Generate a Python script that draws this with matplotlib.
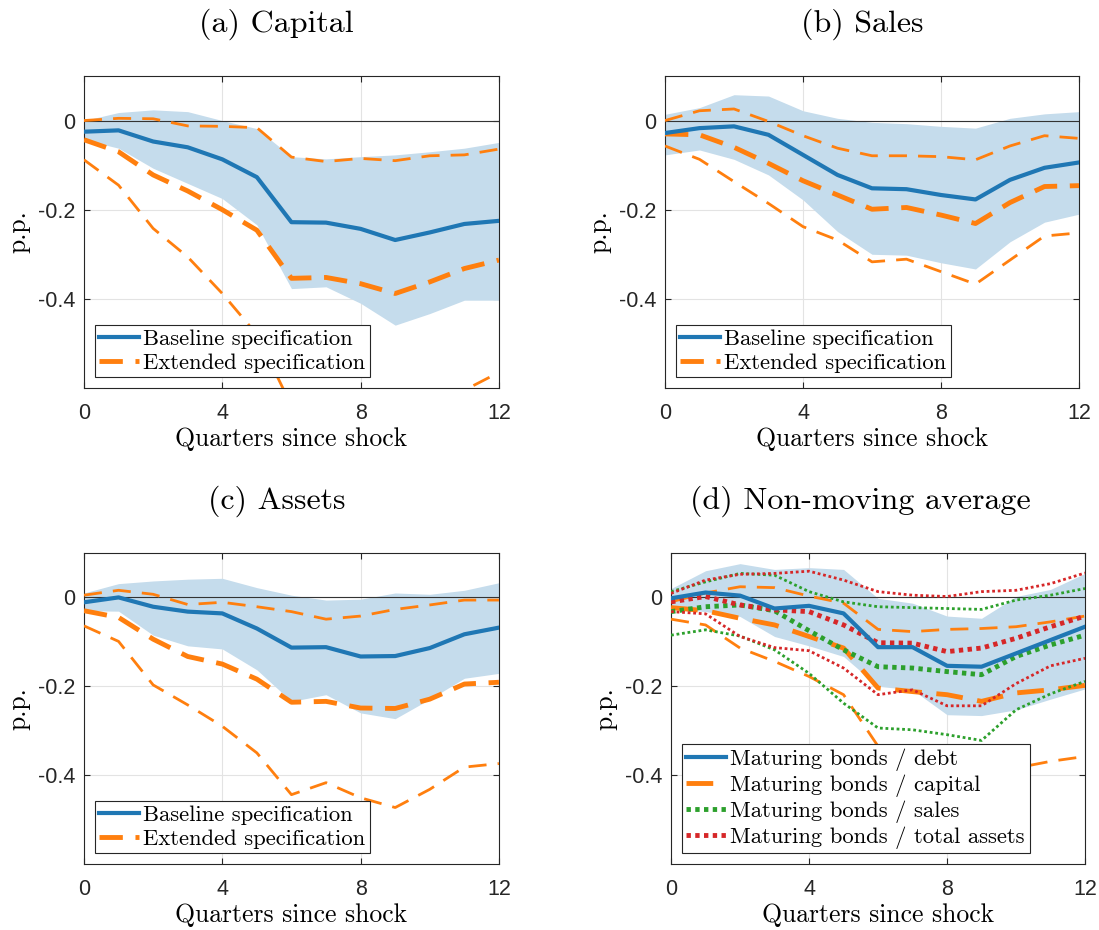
import numpy as np
import matplotlib.pyplot as plt
from matplotlib.lines import Line2D

quarters = np.arange(13)

# (a) Capital
cap_base = [-0.025, -0.022, -0.047, -0.060, -0.087, -0.127, -0.228, -0.229, -0.243, -0.268, -0.251, -0.232, -0.225]
cap_band_hi = [0.0, 0.018, 0.024, 0.020, 0.0, -0.018, -0.081, -0.086, -0.081, -0.077, -0.070, -0.062, -0.049]
cap_band_lo = [-0.043, -0.062, -0.107, -0.141, -0.175, -0.234, -0.377, -0.373, -0.410, -0.459, -0.433, -0.403, -0.403]
cap_ext = [-0.043, -0.070, -0.122, -0.158, -0.200, -0.246, -0.354, -0.352, -0.366, -0.388, -0.362, -0.332, -0.313]
cap_ext_hi = [0.0, 0.005, 0.004, -0.012, -0.013, -0.016, -0.082, -0.092, -0.085, -0.090, -0.079, -0.077, -0.064]
cap_ext_lo = [-0.088, -0.145, -0.242, -0.306, -0.388, -0.48, -0.64, -0.66, -0.68, -0.70, -0.66, -0.605, -0.565]

# (b) Sales
sal_base = [-0.028, -0.017, -0.013, -0.032, -0.077, -0.122, -0.152, -0.154, -0.167, -0.177, -0.133, -0.106, -0.094]
sal_band_hi = [0.014, 0.029, 0.058, 0.055, 0.022, 0.005, -0.004, -0.007, -0.013, -0.017, 0.005, 0.015, 0.020]
sal_band_lo = [-0.077, -0.066, -0.087, -0.122, -0.178, -0.249, -0.300, -0.302, -0.319, -0.333, -0.272, -0.228, -0.210]
sal_ext = [-0.030, -0.032, -0.060, -0.096, -0.135, -0.167, -0.199, -0.195, -0.212, -0.231, -0.184, -0.148, -0.146]
sal_ext_hi = [0.0, 0.022, 0.026, -0.002, -0.034, -0.062, -0.079, -0.079, -0.081, -0.088, -0.057, -0.034, -0.040]
sal_ext_lo = [-0.057, -0.087, -0.137, -0.186, -0.238, -0.268, -0.317, -0.311, -0.339, -0.367, -0.313, -0.259, -0.252]

# (c) Assets
ast_base = [-0.011, 0.0, -0.021, -0.032, -0.036, -0.070, -0.113, -0.112, -0.133, -0.132, -0.114, -0.083, -0.068]
ast_band_hi = [0.010, 0.031, 0.037, 0.041, 0.043, 0.022, 0.005, -0.006, -0.004, 0.010, 0.007, 0.016, 0.033]
ast_band_lo = [-0.030, -0.031, -0.085, -0.109, -0.116, -0.163, -0.234, -0.219, -0.260, -0.273, -0.229, -0.182, -0.171]
ast_ext = [-0.030, -0.045, -0.094, -0.133, -0.150, -0.184, -0.236, -0.234, -0.249, -0.250, -0.229, -0.195, -0.191]
ast_ext_hi = [0.005, 0.016, 0.007, -0.016, -0.011, -0.021, -0.032, -0.049, -0.042, -0.027, -0.017, -0.006, -0.006]
ast_ext_lo = [-0.064, -0.099, -0.197, -0.242, -0.290, -0.350, -0.444, -0.417, -0.451, -0.473, -0.432, -0.382, -0.374]

# (d) Non-moving average
nm_debt = [-0.002, 0.011, 0.004, -0.025, -0.019, -0.036, -0.112, -0.112, -0.154, -0.156, -0.126, -0.096, -0.066]
nm_debt_hi = [0.020, 0.060, 0.076, 0.063, 0.067, 0.063, -0.002, -0.013, -0.042, -0.047, 0.002, 0.018, 0.054]
nm_debt_lo = [-0.025, -0.032, -0.043, -0.088, -0.109, -0.133, -0.200, -0.208, -0.264, -0.266, -0.253, -0.229, -0.206]
nm_cap = [-0.023, -0.030, -0.047, -0.062, -0.088, -0.114, -0.204, -0.212, -0.219, -0.234, -0.215, -0.208, -0.198]
nm_cap_hi = [-0.010, 0.010, 0.024, 0.022, 0.003, -0.013, -0.072, -0.077, -0.072, -0.070, -0.066, -0.055, -0.042]
nm_cap_lo = [-0.049, -0.062, -0.114, -0.144, -0.178, -0.219, -0.335, -0.365, -0.385, -0.395, -0.384, -0.369, -0.358]
nm_sal = [-0.032, -0.021, -0.017, -0.030, -0.075, -0.118, -0.156, -0.159, -0.167, -0.174, -0.133, -0.107, -0.085]
nm_sal_hi = [0.013, 0.035, 0.054, 0.050, 0.013, -0.010, -0.021, -0.023, -0.025, -0.027, -0.006, 0.005, 0.020]
nm_sal_lo = [-0.085, -0.073, -0.087, -0.118, -0.171, -0.238, -0.294, -0.298, -0.309, -0.322, -0.253, -0.217, -0.189]
nm_ta = [-0.010, 0.002, -0.017, -0.028, -0.032, -0.062, -0.102, -0.103, -0.122, -0.114, -0.092, -0.066, -0.042]
nm_ta_hi = [0.009, 0.039, 0.052, 0.054, 0.059, 0.039, 0.013, 0.005, 0.002, 0.013, 0.016, 0.031, 0.055]
nm_ta_lo = [-0.032, -0.037, -0.088, -0.113, -0.120, -0.159, -0.219, -0.208, -0.244, -0.244, -0.194, -0.154, -0.137]

titles = ['(a) Capital', '(b) Sales', '(c) Assets', '(d) Non-moving average']
ext_labels = ['Baseline specification', 'Extended specification']
nm_labels = ['Maturing bonds / debt', 'Maturing bonds / capital',
             'Maturing bonds / sales', 'Maturing bonds / total assets']

BLUE = '#1f77b4'
ORANGE = '#ff7f0e'
GREEN = '#2ca02c'
RED = '#d62728'
BAND = '#c5dcec'
SERIF = 'cmr10'
SANS = 'Liberation Sans'

THICK_DASH = (4.8, 2.6)
THIN_DASH = (6.5, 4)
DOT = (0.9, 0.9)

plt.rcParams['axes.formatter.use_mathtext'] = True

fig = plt.figure(figsize=(10.99, 9.3), dpi=100)
positions = [
    [0.0764, 0.5828, 0.3776, 0.3355],
    [0.6051, 0.5828, 0.3767, 0.3355],
    [0.0764, 0.0710, 0.3776, 0.3344],
    [0.6106, 0.0710, 0.3767, 0.3344],
]
# titles sit a little left of the axes centre in the original
title_x = [0.463, 0.477, 0.465, 0.457]


def style_axes(ax, title, tx):
    ax.set_xlim(0, 12)
    ax.set_ylim(-0.6, 0.1)
    ax.set_xticks([0, 4, 8, 12])
    ax.set_xticklabels(['0', '4', '8', '12'], fontfamily=SANS, fontsize=15.5)
    ax.set_yticks([-0.4, -0.2, 0])
    ax.set_yticklabels(['-0.4', '-0.2', '0'], fontfamily=SANS, fontsize=15.5)
    ax.tick_params(direction='in', top=True, right=True, length=4, width=0.8,
                   colors='#262626')
    ax.tick_params(axis='x', pad=11)
    ax.tick_params(axis='y', pad=6)
    ax.grid(True, color='#e3e3e3', linewidth=0.8)
    ax.set_axisbelow(True)
    for s in ax.spines.values():
        s.set_color('#262626')
        s.set_linewidth(0.8)
    ax.axhline(0, color='#333333', linewidth=0.8, zorder=2)
    ax.set_title(title, fontfamily=SERIF, fontsize=23, pad=32, x=tx)
    ax.set_xlabel('Quarters since shock', fontfamily=SERIF, fontsize=18.5, labelpad=2)
    ax.set_ylabel('p.p.', fontfamily=SERIF, fontsize=18.5, labelpad=6)


def add_legend(ax, handles, labels):
    leg = ax.legend(handles, labels, loc='lower left', bbox_to_anchor=(0.026, 0.035),
                    prop={'family': SERIF, 'size': 16.3}, fancybox=False, framealpha=1,
                    edgecolor='#262626', handlelength=1.75, handletextpad=0.2,
                    borderpad=0.2, labelspacing=0.15, borderaxespad=0)
    leg.get_frame().set_linewidth(0.8)


def spec_panel(ax, base, hi, lo, ext, ext_hi, ext_lo, title, tx):
    ax.fill_between(quarters, lo, hi, color=BAND, linewidth=0, zorder=1)
    ax.plot(quarters, base, color=BLUE, linewidth=3, zorder=4)
    ax.plot(quarters, ext, color=ORANGE, linewidth=3.5, dashes=THICK_DASH, zorder=3)
    ax.plot(quarters, ext_hi, color=ORANGE, linewidth=2, dashes=THIN_DASH, zorder=3)
    ax.plot(quarters, ext_lo, color=ORANGE, linewidth=2, dashes=THIN_DASH, zorder=3)
    style_axes(ax, title, tx)
    handles = [Line2D([], [], color=BLUE, linewidth=3),
               Line2D([], [], color=ORANGE, linewidth=3.5, dashes=THICK_DASH)]
    add_legend(ax, handles, ext_labels)


axes = [fig.add_axes(p) for p in positions]
spec_panel(axes[0], cap_base, cap_band_hi, cap_band_lo, cap_ext, cap_ext_hi, cap_ext_lo, titles[0], title_x[0])
spec_panel(axes[1], sal_base, sal_band_hi, sal_band_lo, sal_ext, sal_ext_hi, sal_ext_lo, titles[1], title_x[1])
spec_panel(axes[2], ast_base, ast_band_hi, ast_band_lo, ast_ext, ast_ext_hi, ast_ext_lo, titles[2], title_x[2])

ax = axes[3]
ax.fill_between(quarters, nm_debt_lo, nm_debt_hi, color=BAND, linewidth=0, zorder=1)
ax.plot(quarters, nm_cap, color=ORANGE, linewidth=3.5, dashes=(5.5, 3), zorder=3)
ax.plot(quarters, nm_cap_hi, color=ORANGE, linewidth=2, dashes=THIN_DASH, zorder=3)
ax.plot(quarters, nm_cap_lo, color=ORANGE, linewidth=2, dashes=THIN_DASH, zorder=3)
ax.plot(quarters, nm_sal, color=GREEN, linewidth=3.5, dashes=DOT, zorder=3)
ax.plot(quarters, nm_sal_hi, color=GREEN, linewidth=2, dashes=(1, 1), zorder=3)
ax.plot(quarters, nm_sal_lo, color=GREEN, linewidth=2, dashes=(1, 1), zorder=3)
ax.plot(quarters, nm_ta, color=RED, linewidth=3.5, dashes=DOT, zorder=3)
ax.plot(quarters, nm_ta_hi, color=RED, linewidth=2, dashes=(1, 1), zorder=3)
ax.plot(quarters, nm_ta_lo, color=RED, linewidth=2, dashes=(1, 1), zorder=3)
ax.plot(quarters, nm_debt, color=BLUE, linewidth=3, zorder=4)
style_axes(ax, titles[3], title_x[3])
handles = [Line2D([], [], color=BLUE, linewidth=3),
           Line2D([], [], color=ORANGE, linewidth=3.5, dashes=(5.5, 3)),
           Line2D([], [], color=GREEN, linewidth=3.5, dashes=DOT),
           Line2D([], [], color=RED, linewidth=3.5, dashes=DOT)]
add_legend(ax, handles, nm_labels)

fig.savefig('out.png', dpi=100)
